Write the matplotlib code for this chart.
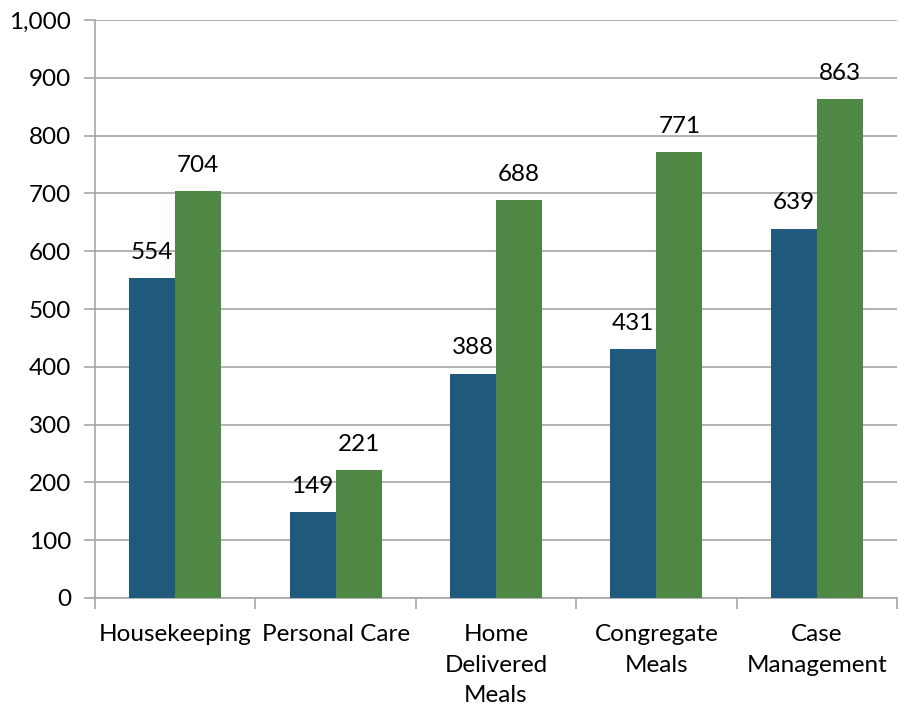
import numpy as np
import matplotlib.pyplot as plt

plt.rcParams["font.family"] = ["Lato", "DejaVu Sans"]

categories = ["Housekeeping", "Personal Care", "Home\nDelivered\nMeals",
              "Congregate\nMeals", "Case\nManagement"]
series_a = [554, 149, 388, 431, 639]
series_b = [704, 221, 688, 771, 863]

fig = plt.figure(figsize=(8.99, 7.13), dpi=100)
ax = fig.add_axes([95 / 899, 1 - 598 / 713, 802 / 899, 578 / 713])

x = np.arange(len(categories))
w = 0.287
bars_a = ax.bar(x - w / 2, series_a, w, color="#1F5A7C", zorder=3)
bars_b = ax.bar(x + w / 2, series_b, w, color="#4E8844", zorder=3)

fs = 17.5
for bars in (bars_a, bars_b):
    for b in bars:
        ax.annotate(f"{b.get_height():,.0f}", (b.get_x() + b.get_width() / 2, b.get_height()),
                    xytext=(0, 11), textcoords="offset points", ha="center", va="bottom",
                    fontsize=fs)

ax.set_xlim(-0.5, len(categories) - 0.5)
ax.set_ylim(0, 1000)
ax.set_yticks(range(0, 1001, 100))
ax.set_yticklabels([f"{v:,}" for v in range(0, 1001, 100)], fontsize=fs)
ax.yaxis.grid(True, color="#A6A6A6", linewidth=1.2, zorder=0)
ax.set_axisbelow(True)

ax.set_xticks(x)
ax.set_xticklabels(categories, fontsize=fs, linespacing=1.55)
ax.set_xticks(np.arange(-0.5, len(categories)), minor=True)
ax.tick_params(axis="x", which="major", length=0, pad=19)
ax.tick_params(axis="x", which="minor", length=8, color="#A6A6A6", width=1.2)
ax.tick_params(axis="y", length=8, color="#A6A6A6", width=1.2, pad=9)

for s in ("top", "right"):
    ax.spines[s].set_visible(False)
for s in ("left", "bottom"):
    ax.spines[s].set_color("#A6A6A6")
    ax.spines[s].set_linewidth(1.2)

fig.savefig("out.png", dpi=100)
